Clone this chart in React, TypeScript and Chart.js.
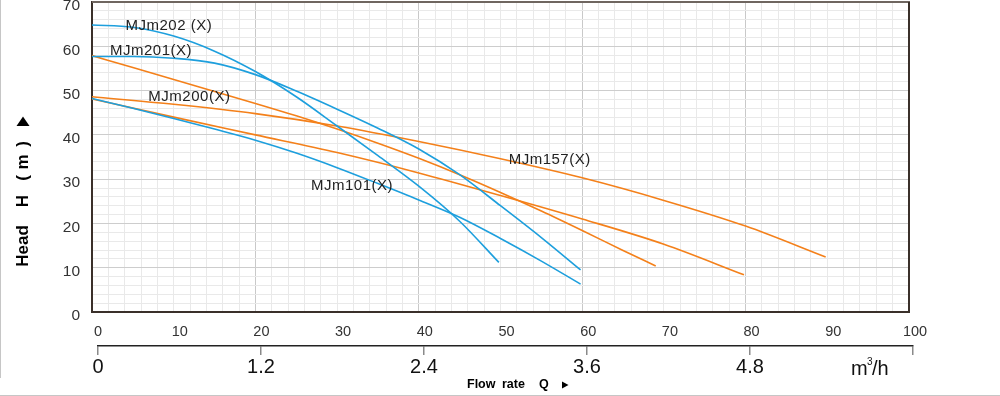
import React, { useEffect, useRef } from 'react';
import { Chart, registerables } from 'chart.js';

Chart.register(...registerables);

const FONT = '"Liberation Sans", Arial, Helvetica, sans-serif';
const BLUE = '#1d9fdd';
const ORANGE = '#f4801a';

// Flow (L/min) and head (m) for each curve
const mjm202Flow = [0, 5, 10, 15, 20, 25, 30, 35, 40, 45, 49.8];
const mjm202Head = [64.8, 64.3, 62.3, 58.9, 54.3, 48.6, 42.0, 35.3, 28.4, 20.5, 11.2];

const mjm201Flow = [0, 5, 10, 15, 20, 25, 30, 35, 40, 45, 50, 55, 59.8];
const mjm201Head = [57.7, 57.7, 57.3, 56.2, 53.6, 49.9, 45.8, 41.5, 36.8, 31.0, 24.0, 16.8, 9.5];

const mjm101Flow = [0, 5, 10, 15, 20, 25, 30, 35, 40, 45, 50, 55, 59.8];
const mjm101Head = [48.2, 46.0, 43.7, 41.3, 38.8, 35.9, 32.6, 29.0, 25.3, 21.4, 16.6, 11.5, 6.3];

const orangeAFlow = [0, 5, 10, 15, 20, 25, 30, 35, 40, 45, 50, 55, 60, 65, 69];
const orangeAHead = [57.9, 55.2, 52.5, 49.8, 47.1, 44.3, 41.3, 38.1, 34.7, 31.0, 27.0, 22.8, 18.4, 13.9, 10.4];

const mjm157Flow = [0, 10, 20, 30, 40, 50, 60, 70, 80, 89.8];
const mjm157Head = [48.6, 46.9, 44.8, 42.0, 38.5, 34.6, 30.3, 25.2, 19.4, 12.4];

const mjm200Flow = [0, 10, 20, 30, 40, 50, 60, 70, 79.8];
const mjm200Head = [48.1, 44.0, 40.0, 36.0, 31.4, 26.3, 21.0, 15.3, 8.4];

// Curve name labels placed on the chart (data coordinates of text start)
const labelTexts = ['MJm202 (X)', 'MJm201(X)', 'MJm200(X)', 'MJm157(X)', 'MJm101(X)'];
const labelFlow = [4.1, 2.2, 6.9, 51.0, 26.8];
const labelHead = [64.6, 58.9, 48.6, 34.4, 28.4];

// Tick labels
const headTickLabels = [0, 10, 20, 30, 40, 50, 60, 70];
const flowTickLabels = [0, 10, 20, 30, 40, 50, 60, 70, 80, 90, 100];
const m3hTickLabels = ['0', '1.2', '2.4', '3.6', '4.8', ''];

const pts = (f: number[], h: number[]) => f.map((x, i) => ({ x, y: h[i] }));

const series = [
  { name: 'MJm202(X)', color: BLUE, data: pts(mjm202Flow, mjm202Head) },
  { name: 'MJm201(X)', color: BLUE, data: pts(mjm201Flow, mjm201Head) },
  { name: 'MJm101(X)', color: BLUE, data: pts(mjm101Flow, mjm101Head) },
  { name: 'Curve 58', color: ORANGE, data: pts(orangeAFlow, orangeAHead) },
  { name: 'MJm157(X)', color: ORANGE, data: pts(mjm157Flow, mjm157Head) },
  { name: 'MJm200(X)', color: ORANGE, data: pts(mjm200Flow, mjm200Head) },
];

const shiftPlugin = {
  id: 'shiftX2',
  afterLayout(chart: any) {
    const s = chart.scales.x2;
    if (s) {
      s.left += 6;
      s.right += 4;
      s.width = s.right - s.left;
      s.configure();
    }
  },
};

const annotPlugin = {
  id: 'annot',
  afterDraw(chart: any) {
    const { ctx, chartArea: a, scales } = chart;
    const xs = scales.x;
    const ys = scales.y;
    ctx.save();
    // outer frame
    ctx.strokeStyle = '#c6c6c6';
    ctx.lineWidth = 1;
    ctx.beginPath();
    ctx.moveTo(0.5, 0);
    ctx.lineTo(0.5, 378);
    ctx.stroke();
    ctx.beginPath();
    ctx.moveTo(0, 395.5);
    ctx.lineTo(1000, 395.5);
    ctx.stroke();
    // top & right border
    ctx.lineWidth = 2;
    ctx.strokeStyle = '#6f6660';
    ctx.beginPath();
    ctx.moveTo(a.left, a.top);
    ctx.lineTo(a.right + 1, a.top);
    ctx.stroke();
    ctx.strokeStyle = '#3a302a';
    ctx.beginPath();
    ctx.moveTo(a.right, a.top);
    ctx.lineTo(a.right, a.bottom);
    ctx.stroke();

    // series labels
    ctx.font = `15px ${FONT}`;
    ctx.fillStyle = '#222';
    ctx.textAlign = 'left';
    ctx.textBaseline = 'middle';
    (ctx as any).letterSpacing = '0.5px';
    labelTexts.forEach((t, i) => {
      ctx.fillText(t, xs.getPixelForValue(labelFlow[i]), ys.getPixelForValue(labelHead[i]));
    });
    (ctx as any).letterSpacing = '0px';

    // y axis title
    ctx.fillStyle = '#000';
    ctx.font = `bold 17px ${FONT}`;
    ctx.textAlign = 'center';
    const parts = ['Head', 'H', '(', 'm', ')'];
    const centers = [246, 201, 178, 162, 144];
    parts.forEach((p, i) => {
      ctx.save();
      ctx.translate(22, centers[i]);
      ctx.rotate(-Math.PI / 2);
      ctx.fillText(p, 0, 1);
      ctx.restore();
    });
    ctx.beginPath();
    ctx.moveTo(23, 116.5);
    ctx.lineTo(29.5, 126);
    ctx.lineTo(16.5, 126);
    ctx.closePath();
    ctx.fill();

    // x axis title
    ctx.font = `bold 12.5px ${FONT}`;
    ctx.textAlign = 'left';
    ctx.fillText('Flow', 467, 385);
    ctx.fillText('rate', 502, 385);
    ctx.fillText('Q', 539, 385);
    ctx.beginPath();
    ctx.moveTo(562, 381.5);
    ctx.lineTo(568.5, 385);
    ctx.lineTo(562, 388.5);
    ctx.closePath();
    ctx.fill();

    // m3/h unit
    ctx.fillStyle = '#111';
    ctx.font = `20px ${FONT}`;
    ctx.fillText('m', 851, 369);
    ctx.font = `10px ${FONT}`;
    ctx.fillText('3', 867, 362);
    ctx.font = `20px ${FONT}`;
    ctx.fillText('/h', 872, 369);
    ctx.restore();
  },
};

export default function App() {
  const ref = useRef<HTMLCanvasElement>(null);
  useEffect(() => {
    document.body.style.margin = '0';
    Chart.defaults.font.family = FONT;
    const chart = new Chart(ref.current as HTMLCanvasElement, {
      type: 'line',
      data: {
        datasets: series.map((s) => ({
          label: s.name,
          data: s.data,
          borderColor: s.color,
          backgroundColor: s.color,
          borderWidth: 1.6,
          pointRadius: 0,
          fill: false,
          cubicInterpolationMode: 'monotone' as const,
        })),
      },
      options: {
        responsive: false,
        animation: false,
        devicePixelRatio: 1,
        layout: { padding: { left: 0, top: 2, right: 91, bottom: 0 }, autoPadding: false },
        plugins: { legend: { display: false }, tooltip: { enabled: false } },
        scales: {
          x: {
            type: 'linear',
            position: 'bottom',
            weight: 0,
            min: 0,
            max: 100,
            afterFit: (s: any) => {
              s.height = 34;
              s.paddingLeft = 0;
              s.paddingRight = 0;
            },
            grid: {
              drawTicks: false,
              lineWidth: 1,
              color: (c: any) => (c.tick && c.tick.value % 20 === 0 ? '#c9c9c9' : '#e9e9e9'),
            },
            border: { display: true, color: '#3a302a', width: 2 },
            ticks: {
              stepSize: 2,
              autoSkip: false,
              maxRotation: 0,
              padding: 11,
              labelOffset: 6,
              color: '#333',
              font: { size: 14.5 },
              callback: (v: any) => (flowTickLabels.includes(Number(v)) ? String(v) : ''),
            },
          },
          x2: {
            type: 'linear',
            position: 'bottom',
            weight: 1,
            min: 0,
            max: 6,
            afterFit: (s: any) => {
              s.height = 50;
              s.paddingLeft = 0;
              s.paddingRight = 0;
            },
            grid: {
              drawOnChartArea: false,
              drawTicks: true,
              tickLength: 9,
              color: '#8a8a8a',
              lineWidth: 1.5,
            },
            border: { display: true, color: '#222', width: 1.5 },
            ticks: {
              stepSize: 1.2,
              autoSkip: false,
              maxRotation: 0,
              padding: 0,
              color: '#111',
              font: { size: 20 },
              callback: (_v: any, i: number) => m3hTickLabels[i] ?? '',
            },
          },
          y: {
            type: 'linear',
            min: 0,
            max: 70,
            afterFit: (s: any) => {
              s.width = 92;
              s.paddingTop = 0;
              s.paddingBottom = 0;
            },
            grid: {
              drawTicks: false,
              lineWidth: 1,
              color: (c: any) => (c.tick && c.tick.value % 10 === 0 ? '#cdcdcd' : '#e9e9e9'),
            },
            border: { display: true, color: '#3a302a', width: 2 },
            ticks: {
              stepSize: 2,
              autoSkip: false,
              padding: 12,
              labelOffset: 4,
              color: '#333',
              font: { size: 15.5 },
              callback: (v: any) => (headTickLabels.includes(Number(v)) ? String(v) : ''),
            },
          },
        },
      },
      plugins: [shiftPlugin, annotPlugin],
    } as any);
    return () => chart.destroy();
  }, []);
  return (
    <div style={{ position: 'absolute', left: 0, top: 0, width: 1000, height: 396, background: '#fff' }}>
      <canvas ref={ref} width={1000} height={396} style={{ display: 'block', width: 1000, height: 396 }} />
    </div>
  );
}
